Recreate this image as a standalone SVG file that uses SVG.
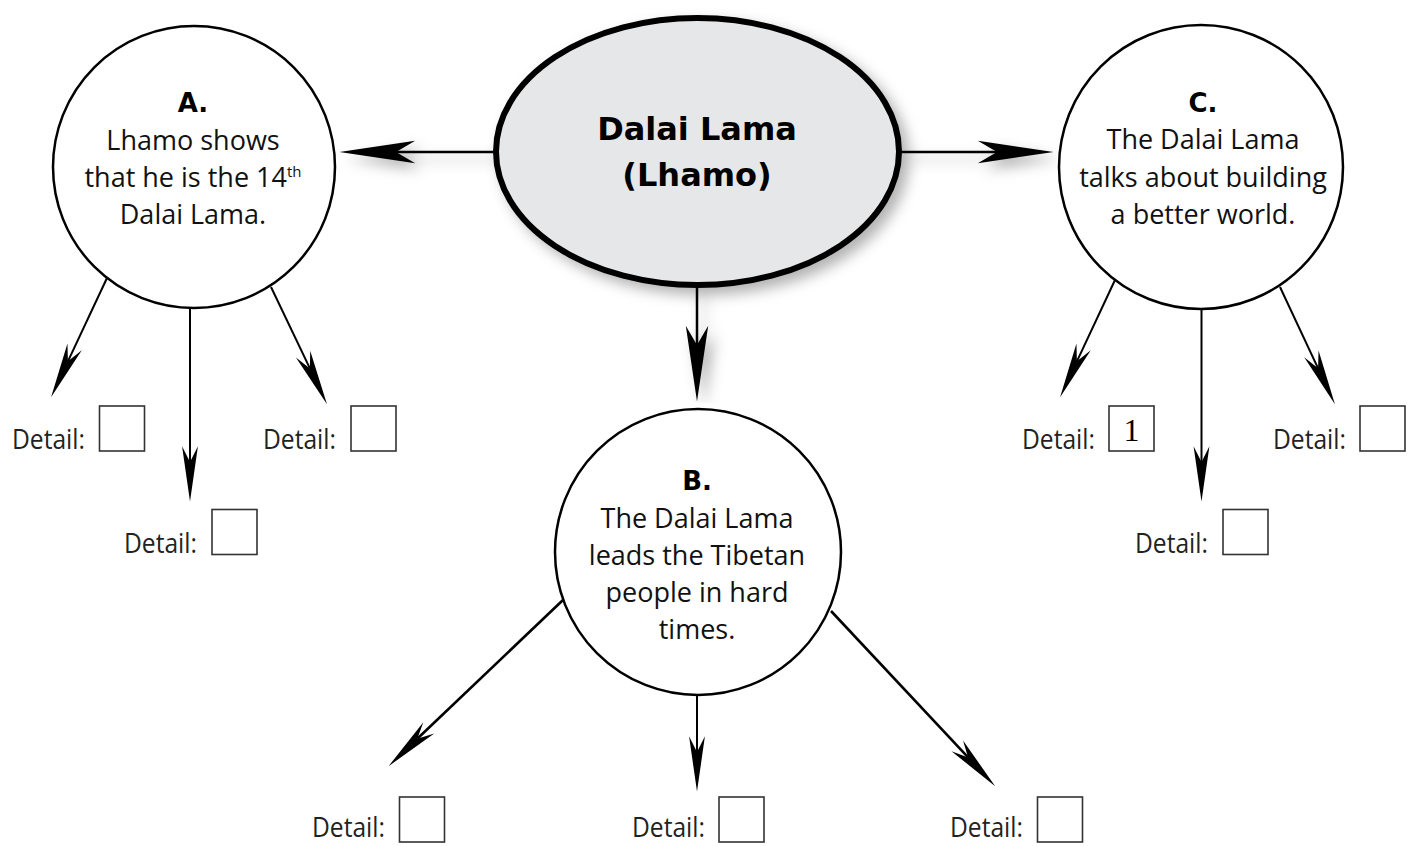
<svg xmlns="http://www.w3.org/2000/svg" width="1413" height="846" viewBox="0 0 1413 846">
<defs>
<style>
.bg{fill:#ffffff}
.circ{fill:#ffffff;stroke:#000;stroke-width:2.5}
.main{fill:#e6e7e9;stroke:#000;stroke-width:6}
.title{font-family:"DejaVu Sans",sans-serif;font-weight:bold;font-size:32px;fill:#000;text-anchor:middle}
.lab{font-family:"DejaVu Sans",sans-serif;font-weight:bold;font-size:26px;fill:#000;text-anchor:middle}
.txt{font-family:"Open Sans","Noto Sans",sans-serif;font-size:27px;fill:#111;text-anchor:middle}
.det{font-family:"Open Sans","Noto Sans",sans-serif;font-size:27px;fill:#222}
.box{fill:#fff;stroke:#333;stroke-width:1.6}
.num{font-family:"Liberation Serif",serif;font-size:32px;fill:#000;text-anchor:middle}
.big{stroke:#000;stroke-width:2.5;fill:none}
.sub{stroke:#000;stroke-width:2;fill:none}
.subb{stroke:#000;stroke-width:2.6;fill:none}
</style>
<marker id="headBig" markerUnits="userSpaceOnUse" orient="auto" refX="0" refY="0" markerWidth="80" markerHeight="30" viewBox="-20 -12 75 24" overflow="visible">
<path d="M53,0 L-18,-10.5 L0,0 L-18,10.5 Z" fill="#000"/>
</marker>
<marker id="headSmall" markerUnits="userSpaceOnUse" orient="auto" refX="0" refY="0" markerWidth="60" markerHeight="20" viewBox="-16 -8 53 16" overflow="visible">
<path d="M35,0 L-14,-7 L0,0 L-14,7 Z" fill="#000"/>
</marker>
<filter id="shadow" x="-20%" y="-20%" width="150%" height="150%">
<feDropShadow dx="7" dy="7" stdDeviation="7" flood-color="#000" flood-opacity="0.3"/>
</filter>
</defs>
<rect class="bg" x="0" y="0" width="1413" height="846"/>

<g id="connectors">
<g filter="url(#shadow)">
<path class="big" d="M496,152 L396,152" marker-end="url(#headBig)"/>
<path class="big" d="M899,152 L997,152" marker-end="url(#headBig)"/>
<path class="big" d="M697,286 L697,345" marker-end="url(#headBig)"/>
</g>
<path class="sub" d="M107,278 L67.9,361.3" marker-end="url(#headSmall)"/>
<path class="sub" d="M190,308 L190,462" marker-end="url(#headSmall)"/>
<path class="sub" d="M271,287 L309.9,368.4" marker-end="url(#headSmall)"/>
<path class="sub" d="M1115,280 L1076.9,361.3" marker-end="url(#headSmall)"/>
<path class="sub" d="M1201.5,308 L1201.5,462" marker-end="url(#headSmall)"/>
<path class="sub" d="M1280,287 L1318.1,368.3" marker-end="url(#headSmall)"/>
<path class="subb" d="M563,600 L417.3,738.8" marker-end="url(#headSmall)"/>
<path class="sub" d="M697,695 L697,752" marker-end="url(#headSmall)"/>
<path class="subb" d="M831,611 L968.1,757.4" marker-end="url(#headSmall)"/>
</g>

<g id="node-main">
<ellipse class="main" cx="697.5" cy="151.5" rx="201.5" ry="133.5" filter="url(#shadow)"/>
<text class="title" x="697" y="140">Dalai Lama</text>
<text class="title" x="697" y="186">(Lhamo)</text>
</g>

<g id="node-a">
<circle class="circ" cx="194" cy="167" r="141"/>
<text class="lab" x="193" y="112">A.</text>
<text class="txt" x="193" y="150">Lhamo shows</text>
<text class="txt" x="193" y="187">that he is the 14<tspan font-size="15" dy="-10">th</tspan></text>
<text class="txt" x="193" y="224">Dalai Lama.</text>
</g>

<g id="node-b">
<circle class="circ" cx="698" cy="552" r="143"/>
<text class="lab" x="697" y="490">B.</text>
<text class="txt" x="697" y="528">The Dalai Lama</text>
<text class="txt" x="697" y="565">leads the Tibetan</text>
<text class="txt" x="697" y="602">people in hard</text>
<text class="txt" x="697" y="639">times.</text>
</g>

<g id="node-c">
<circle class="circ" cx="1201" cy="167" r="142"/>
<text class="lab" x="1203" y="112">C.</text>
<text class="txt" x="1203" y="149">The Dalai Lama</text>
<text class="txt" x="1203" y="187">talks about building</text>
<text class="txt" x="1203" y="224">a better world.</text>
</g>

<g id="detail-a1"><text class="det" x="12" y="449" textLength="73" lengthAdjust="spacingAndGlyphs">Detail:</text><rect class="box" x="99.5" y="406" width="45" height="45"/></g>
<g id="detail-a2"><text class="det" x="124" y="553" textLength="73" lengthAdjust="spacingAndGlyphs">Detail:</text><rect class="box" x="212" y="509.5" width="45" height="45"/></g>
<g id="detail-a3"><text class="det" x="263" y="449" textLength="73" lengthAdjust="spacingAndGlyphs">Detail:</text><rect class="box" x="351" y="406" width="45" height="45"/></g>

<g id="detail-c1"><text class="det" x="1022" y="449" textLength="73" lengthAdjust="spacingAndGlyphs">Detail:</text><rect class="box" x="1109" y="406" width="45" height="45"/><text class="num" x="1131.5" y="441">1</text></g>
<g id="detail-c2"><text class="det" x="1135" y="553" textLength="73" lengthAdjust="spacingAndGlyphs">Detail:</text><rect class="box" x="1223" y="509.5" width="45" height="45"/></g>
<g id="detail-c3"><text class="det" x="1273" y="449" textLength="73" lengthAdjust="spacingAndGlyphs">Detail:</text><rect class="box" x="1360" y="406" width="45" height="45"/></g>

<g id="detail-b1"><text class="det" x="312" y="837" textLength="73" lengthAdjust="spacingAndGlyphs">Detail:</text><rect class="box" x="399.5" y="797" width="45" height="45"/></g>
<g id="detail-b2"><text class="det" x="632" y="837" textLength="73" lengthAdjust="spacingAndGlyphs">Detail:</text><rect class="box" x="719" y="797" width="45" height="45"/></g>
<g id="detail-b3"><text class="det" x="950" y="837" textLength="73" lengthAdjust="spacingAndGlyphs">Detail:</text><rect class="box" x="1037.5" y="797" width="45" height="45"/></g>
</svg>
